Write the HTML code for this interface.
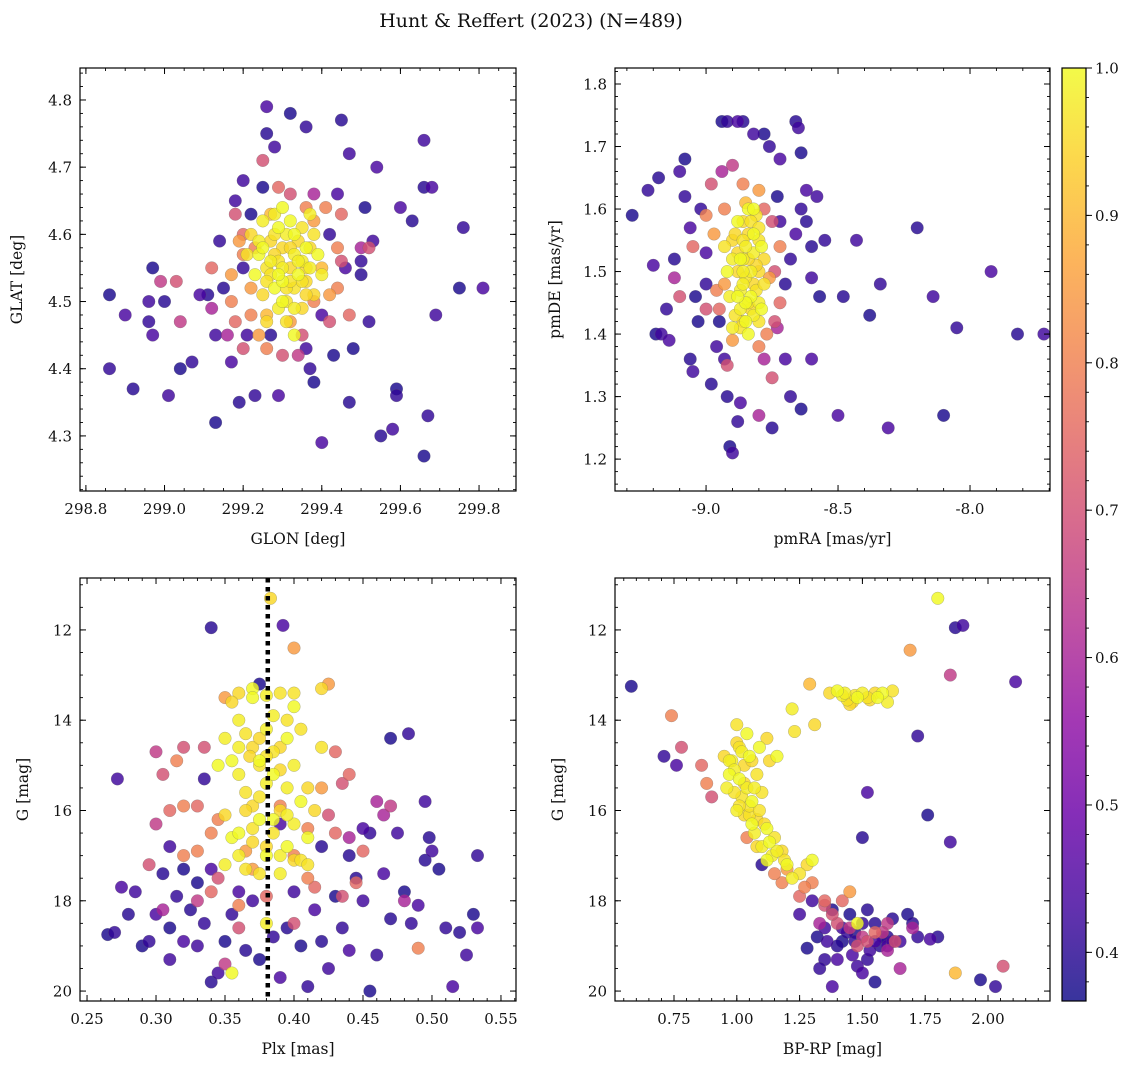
<!DOCTYPE html>
<html><head><meta charset="utf-8">
<style>
html,body{margin:0;padding:0;background:#fff;}
svg{display:block;font-family:"DejaVu Serif","Liberation Serif",serif;}
</style></head>
<body>
<svg id="fig" width="1136" height="1068" viewBox="0 0 1136 1068">
<text x="531" y="27" text-anchor="middle" font-size="19" fill="#111">Hunt &amp; Reffert (2023) (N=489)</text>
</svg>
<script>
// ---------- data (x, y, membership probability) ----------
const p1Purple=[[298.86,4.51],[298.86,4.40],[298.9,4.48],[298.92,4.37],[298.96,4.50],[298.97,4.55],[298.96,4.47],[298.97,4.45],[299.0,4.50],[299.01,4.36],[299.04,4.40],[299.07,4.41],[299.09,4.51],[299.11,4.51],[299.13,4.45],[299.13,4.32],[299.14,4.59],[299.17,4.41],[299.19,4.35],[299.2,4.68],[299.22,4.63],[299.23,4.36],[299.26,4.79],[299.26,4.75],[299.28,4.73],[299.32,4.78],[299.36,4.76],[299.4,4.29],[299.45,4.77],[299.47,4.72],[299.51,4.64],[299.52,4.47],[299.54,4.70],[299.55,4.30],[299.58,4.31],[299.59,4.37],[299.59,4.36],[299.6,4.64],[299.63,4.62],[299.66,4.74],[299.66,4.27],[299.67,4.33],[299.68,4.67],[299.66,4.67],[299.69,4.48],[299.75,4.52],[299.76,4.61],[299.81,4.52],[299.47,4.35],[299.36,4.43],[299.38,4.38],[299.37,4.40],[299.29,4.36],[299.15,4.52],[299.18,4.65],[299.25,4.67],[299.42,4.60],[299.46,4.55],[299.5,4.54],[299.53,4.59],[299.48,4.43],[299.5,4.56],[299.4,4.48],[299.27,4.45],[299.21,4.45],[299.43,4.42],[299.2,4.55],[299.44,4.66]];
const p1Mid=[[299.03,4.53,0.7],[298.99,4.53,0.65],[299.04,4.47,0.65],[299.12,4.49,0.6],[299.18,4.63,0.7],[299.2,4.6,0.75],[299.23,4.58,0.8],[299.25,4.71,0.7],[299.32,4.66,0.7],[299.38,4.66,0.6],[299.45,4.63,0.75],[299.5,4.58,0.6],[299.52,4.58,0.7],[299.16,4.45,0.6],[299.2,4.43,0.7],[299.26,4.43,0.8],[299.3,4.42,0.7],[299.35,4.45,0.7],[299.42,4.47,0.7],[299.47,4.48,0.75],[299.44,4.52,0.8],[299.17,4.5,0.8],[299.12,4.55,0.75],[299.22,4.52,0.85],[299.38,4.62,0.85],[299.4,4.55,0.9],[299.27,4.63,0.9],[299.17,4.54,0.85],[299.44,4.58,0.8],[299.32,4.47,0.85],[299.26,4.48,0.9],[299.19,4.59,0.85],[299.41,4.64,0.8],[299.22,4.48,0.8],[299.24,4.45,0.85],[299.38,4.5,0.8],[299.42,4.51,0.85],[299.36,4.64,0.8],[299.29,4.67,0.75],[299.2,4.57,0.8],[299.45,4.56,0.7],[299.18,4.47,0.75],[299.34,4.42,0.65]];
const p1Yellow=[[299.22,4.60],[299.24,4.57],[299.25,4.62],[299.26,4.55],[299.27,4.59],[299.28,4.52],[299.28,4.63],[299.29,4.56],[299.3,4.58],[299.3,4.53],[299.31,4.60],[299.31,4.50],[299.32,4.55],[299.32,4.62],[299.33,4.57],[299.33,4.52],[299.34,4.59],[299.34,4.54],[299.35,4.56],[299.35,4.61],[299.36,4.53],[299.36,4.58],[299.37,4.55],[299.38,4.60],[299.38,4.51],[299.39,4.57],[299.29,4.49],[299.27,4.54],[299.25,4.51],[299.23,4.54],[299.4,4.54],[299.31,4.47],[299.35,4.49],[299.3,4.64],[299.37,4.63],[299.21,4.57],[299.26,4.47],[299.33,4.45],[299.24,4.59],[299.26,4.53],[299.28,4.57],[299.29,4.61],[299.3,4.55],[299.31,4.52],[299.32,4.58],[299.33,4.60],[299.34,4.56],[299.35,4.53],[299.36,4.55],[299.3,4.50],[299.27,4.56],[299.32,4.53],[299.37,4.58],[299.29,4.54],[299.33,4.49],[299.28,4.60],[299.36,4.51],[299.25,4.58]];

const p2Purple=[[-9.28,1.59],[-9.22,1.63],[-9.2,1.51],[-9.18,1.65],[-9.17,1.40],[-9.19,1.40],[-9.15,1.44],[-9.14,1.39],[-9.12,1.52],[-9.1,1.66],[-9.08,1.68],[-9.08,1.62],[-9.06,1.57],[-9.06,1.36],[-9.05,1.34],[-9.04,1.46],[-9.02,1.60],[-9.0,1.53],[-8.98,1.32],[-8.96,1.38],[-8.94,1.74],[-8.92,1.74],[-8.88,1.74],[-8.86,1.74],[-8.82,1.72],[-8.78,1.72],[-8.76,1.70],[-8.72,1.68],[-8.66,1.74],[-8.65,1.73],[-8.64,1.69],[-8.64,1.6],[-8.62,1.63],[-8.6,1.54],[-8.6,1.49],[-8.57,1.46],[-8.55,1.55],[-8.5,1.27],[-8.48,1.46],[-8.43,1.55],[-8.38,1.43],[-8.34,1.48],[-8.31,1.25],[-8.2,1.57],[-8.14,1.46],[-8.1,1.27],[-8.05,1.41],[-7.92,1.50],[-7.82,1.40],[-7.72,1.40],[-8.64,1.28],[-8.68,1.30],[-8.7,1.36],[-8.75,1.25],[-8.9,1.21],[-8.91,1.22],[-8.88,1.26],[-8.87,1.29],[-8.92,1.3],[-8.93,1.36],[-8.95,1.42],[-8.68,1.52],[-8.66,1.56],[-8.7,1.48],[-8.72,1.58],[-9.03,1.42],[-9.0,1.48],[-8.6,1.36],[-8.62,1.58],[-8.58,1.62],[-8.73,1.62]];
const p2Mid=[[-9.12,1.49,0.6],[-9.1,1.46,0.7],[-9.0,1.44,0.7],[-8.98,1.64,0.7],[-8.94,1.66,0.6],[-8.9,1.67,0.65],[-8.86,1.64,0.8],[-8.8,1.63,0.85],[-8.75,1.58,0.7],[-8.72,1.54,0.8],[-8.74,1.42,0.7],[-8.73,1.41,0.6],[-8.78,1.36,0.6],[-8.8,1.27,0.6],[-8.92,1.35,0.7],[-8.96,1.47,0.8],[-9.05,1.54,0.75],[-8.97,1.56,0.85],[-8.76,1.49,0.85],[-8.75,1.33,0.7],[-8.72,1.45,0.75],[-9.0,1.59,0.8],[-8.85,1.61,0.9],[-8.9,1.39,0.85],[-8.8,1.38,0.8],[-8.93,1.6,0.8],[-8.78,1.6,0.75],[-8.95,1.44,0.75],[-8.77,1.4,0.8],[-8.93,1.48,0.85],[-8.74,1.5,0.7]];
const p2Yellow=[[-8.9,1.55],[-8.88,1.58],[-8.86,1.52],[-8.85,1.49],[-8.84,1.56],[-8.83,1.46],[-8.82,1.53],[-8.81,1.59],[-8.8,1.50],[-8.79,1.44],[-8.87,1.47],[-8.89,1.43],[-8.86,1.42],[-8.84,1.40],[-8.82,1.43],[-8.8,1.55],[-8.78,1.52],[-8.92,1.50],[-8.91,1.46],[-8.93,1.54],[-8.88,1.50],[-8.85,1.45],[-8.83,1.50],[-8.81,1.47],[-8.86,1.58],[-8.84,1.6],[-8.9,1.41],[-8.78,1.48],[-8.88,1.53],[-8.82,1.56],[-8.87,1.44],[-8.8,1.42],[-8.89,1.56],[-8.87,1.52],[-8.85,1.54],[-8.83,1.58],[-8.81,1.51],[-8.79,1.54],[-8.86,1.48],[-8.84,1.45],[-8.82,1.48],[-8.88,1.46],[-8.9,1.52],[-8.86,1.55],[-8.83,1.44],[-8.85,1.42],[-8.8,1.45],[-8.87,1.41],[-8.84,1.52],[-8.82,1.6],[-8.86,1.5],[-8.8,1.57]];

const p3Purple=[[0.265,18.75],[0.27,18.7],[0.275,17.7],[0.28,18.3],[0.285,17.8],[0.29,19.0],[0.295,18.9],[0.3,18.3],[0.305,17.4],[0.31,19.3],[0.31,18.6],[0.315,17.9],[0.32,18.9],[0.325,18.2],[0.33,19.0],[0.33,17.6],[0.335,18.5],[0.34,17.3],[0.34,19.8],[0.345,19.6],[0.35,18.9],[0.355,18.3],[0.36,17.8],[0.365,19.1],[0.37,18.0],[0.375,19.3],[0.385,18.8],[0.39,19.7],[0.395,18.6],[0.4,17.8],[0.405,19.0],[0.41,19.9],[0.415,18.2],[0.42,18.9],[0.425,19.5],[0.43,17.9],[0.435,18.6],[0.44,19.1],[0.445,17.5],[0.45,18.0],[0.455,20.0],[0.46,19.2],[0.465,17.4],[0.47,18.4],[0.475,16.5],[0.48,17.8],[0.485,18.5],[0.49,18.1],[0.495,17.1],[0.5,16.9],[0.505,17.3],[0.51,18.6],[0.515,19.9],[0.52,18.7],[0.525,19.2],[0.53,18.3],[0.533,17.0],[0.533,18.6],[0.498,16.6],[0.495,15.8],[0.47,14.4],[0.483,14.3],[0.392,11.9],[0.34,11.95],[0.272,15.3],[0.375,13.2],[0.455,16.5],[0.45,16.4],[0.44,17.0],[0.31,16.8],[0.32,17.3],[0.335,15.3],[0.39,16.3],[0.42,16.8]];
const p3Mid=[[0.295,17.2,0.7],[0.3,16.3,0.65],[0.305,18.2,0.6],[0.305,15.2,0.7],[0.3,14.7,0.65],[0.31,16.0,0.75],[0.315,14.9,0.8],[0.32,17.0,0.8],[0.32,14.6,0.7],[0.33,15.9,0.75],[0.335,14.6,0.7],[0.34,16.5,0.8],[0.345,17.5,0.7],[0.35,19.4,0.65],[0.36,18.6,0.7],[0.365,16.9,0.85],[0.37,17.3,0.85],[0.38,17.9,0.75],[0.39,15.9,0.8],[0.4,17.0,0.8],[0.41,16.4,0.8],[0.415,17.7,0.75],[0.42,15.5,0.85],[0.425,16.1,0.7],[0.43,14.7,0.75],[0.435,15.4,0.7],[0.44,16.6,0.6],[0.445,17.6,0.75],[0.45,16.9,0.75],[0.46,15.8,0.6],[0.465,16.1,0.6],[0.47,15.9,0.65],[0.48,18.0,0.6],[0.49,19.05,0.8],[0.4,12.4,0.85],[0.425,13.2,0.85],[0.35,13.5,0.85],[0.36,18.1,0.8],[0.33,18.0,0.65],[0.4,18.5,0.7],[0.33,16.9,0.8],[0.345,16.2,0.8],[0.43,16.5,0.75],[0.41,17.5,0.8],[0.435,17.9,0.7],[0.34,17.8,0.75],[0.32,15.9,0.8],[0.44,15.2,0.75]];
const p3Yellow=[[0.36,13.4],[0.37,13.3],[0.38,13.45],[0.39,13.4],[0.355,13.6],[0.4,13.7],[0.36,14.0],[0.365,14.3],[0.37,14.6],[0.375,14.9],[0.38,14.2],[0.385,14.7],[0.39,15.1],[0.395,14.4],[0.4,15.0],[0.405,14.2],[0.41,15.5],[0.355,14.9],[0.36,15.2],[0.365,15.6],[0.37,15.9],[0.375,16.2],[0.38,15.4],[0.385,16.5],[0.39,16.0],[0.395,16.8],[0.4,16.3],[0.405,17.1],[0.35,16.1],[0.355,16.6],[0.36,17.0],[0.365,17.3],[0.37,16.7],[0.38,17.0],[0.39,17.4],[0.41,17.2],[0.415,16.0],[0.345,15.0],[0.35,14.4],[0.42,14.6],[0.383,11.3],[0.355,19.6],[0.38,18.5],[0.375,15.0],[0.368,14.8],[0.37,13.5],[0.385,13.9],[0.395,14.0],[0.375,14.4],[0.385,15.2],[0.395,15.5],[0.375,15.7],[0.365,16.0],[0.385,16.2],[0.395,16.1],[0.37,16.4],[0.38,16.8],[0.36,16.5],[0.39,17.0],[0.375,17.4],[0.4,17.1],[0.405,15.8],[0.36,14.6],[0.38,14.8],[0.39,14.6],[0.41,16.6],[0.35,17.2],[0.4,13.4],[0.42,13.3]];

const p4Purple=[[0.58,13.25],[0.71,14.8],[0.76,15.0],[1.1,17.2],[1.3,18.0],[1.32,18.8],[1.35,19.3],[1.38,19.9],[1.4,19.0],[1.42,18.6],[1.45,18.3],[1.47,18.9],[1.5,19.6],[1.52,18.2],[1.53,19.1],[1.55,19.8],[1.58,18.8],[1.6,19.0],[1.62,18.4],[1.65,18.9],[1.68,18.3],[1.72,18.8],[1.77,18.85],[1.8,18.8],[1.85,16.7],[1.97,19.75],[2.03,19.9],[2.11,13.15],[1.87,11.95],[1.9,11.9],[1.76,16.1],[1.72,14.35],[1.52,15.6],[1.5,16.6],[1.35,18.6],[1.38,18.2],[1.44,18.7],[1.46,19.2],[1.57,19.0],[1.25,18.3],[1.28,19.05],[1.33,19.5],[1.4,19.3],[1.55,18.5],[1.48,19.45],[1.42,18.9],[1.5,18.5],[1.55,18.9],[1.6,18.8],[1.36,18.9],[1.47,18.7],[1.52,19.3],[1.62,18.9],[1.7,18.5]];
const p4Mid=[[0.74,13.9,0.8],[0.78,14.6,0.7],[0.86,15.0,0.75],[0.9,15.7,0.7],[1.04,16.6,0.8],[1.18,17.6,0.8],[1.25,17.9,0.75],[1.35,18.1,0.7],[1.4,18.5,0.7],[1.48,19.0,0.7],[1.5,18.8,0.65],[1.55,18.7,0.75],[1.6,19.1,0.6],[1.65,19.5,0.6],[1.7,18.6,0.6],[1.6,18.5,0.65],[1.42,18.0,0.75],[1.3,17.6,0.8],[1.85,13.0,0.65],[2.06,19.45,0.7],[1.45,17.8,0.85],[1.33,18.5,0.6],[0.88,15.4,0.8],[1.29,13.2,0.9],[1.69,12.45,0.85],[1.87,19.6,0.9],[1.2,17.3,0.85],[1.27,17.7,0.8],[1.35,18.0,0.75],[1.38,18.3,0.7],[1.45,18.6,0.65],[1.52,18.9,0.7],[1.58,18.7,0.65],[1.63,18.9,0.7],[1.15,17.4,0.8]];
const p4Yellow=[[0.95,14.8],[0.97,15.2],[0.98,14.9],[1.0,14.1],[1.0,14.5],[1.01,15.3],[1.02,14.7],[1.02,15.7],[1.03,15.0],[1.04,14.3],[1.04,15.5],[1.05,16.1],[1.06,14.9],[1.06,15.8],[1.07,16.5],[1.08,15.2],[1.08,16.2],[1.09,14.6],[1.1,16.8],[1.1,15.6],[1.12,14.4],[1.12,16.4],[1.14,17.0],[1.15,16.6],[1.18,16.9],[1.2,17.2],[1.22,17.5],[1.25,17.4],[1.28,17.2],[1.3,17.1],[1.0,16.0],[1.05,15.9],[1.13,14.9],[1.16,14.8],[0.96,15.5],[0.99,15.6],[1.37,13.4],[1.4,13.35],[1.42,13.45],[1.44,13.55],[1.46,13.6],[1.48,13.5],[1.5,13.4],[1.52,13.5],[1.55,13.4],[1.58,13.4],[1.6,13.6],[1.62,13.35],[1.45,13.65],[1.8,11.3],[1.22,13.75],[1.23,14.25],[1.31,14.1],[1.48,18.5],[0.97,14.9],[1.01,14.6],[1.03,15.4],[1.05,14.8],[1.07,15.5],[1.09,16.0],[1.11,16.3],[1.13,16.7],[1.16,16.9],[1.19,17.1],[1.03,16.1],[1.06,16.3],[0.99,15.1],[1.01,15.9],[1.08,16.8],[1.12,17.1],[1.43,13.4],[1.47,13.45],[1.53,13.55],[1.56,13.5]];

const plxLine=[0.381];
const cbTicks=[0.4,0.5,0.6,0.7,0.8,0.9,1.0];

// ---------- helpers ----------
const NS="http://www.w3.org/2000/svg";
const svg=document.getElementById('fig');
function mk(tag,attrs,parent){const e=document.createElementNS(NS,tag);for(const k in attrs)e.setAttribute(k,attrs[k]);(parent||svg).appendChild(e);return e;}
const PMIN=0.367,PMAX=1.0;
const stops=["#0d0887","#41049d","#6a00a8","#8f0da4","#b12a90","#cc4778","#e16462","#f2844b","#fca636","#fcce25","#f0f921"];
function hex(h){return [1,3,5].map(i=>parseInt(h.substr(i,2),16));}
function cmap(p){let t=(p-PMIN)/(PMAX-PMIN);t=Math.max(0,Math.min(1,t));const f=t*10,i=Math.min(9,Math.floor(f)),r=f-i;const a=hex(stops[i]),b=hex(stops[i+1]);return "rgb("+a.map((v,k)=>Math.round(v+(b[k]-v)*r)).join(",")+")";}
function combine(purple,mid,yellow){
  const pts=[];
  purple.forEach((d,i)=>pts.push([d[0],d[1],0.38+((i*7)%5)*0.015]));
  mid.forEach(d=>pts.push(d));
  yellow.forEach((d,i)=>pts.push([d[0],d[1],0.95+((i*3)%4)*0.0165]));
  pts.sort((a,b)=>a[2]-b[2]);return pts;
}
function fmt(v,dec){return v.toFixed(dec);}

function panel(cfg){
  const g=mk('g',{});
  
  
  const {x0,x1,y0,y1}=cfg.box;
  const sx=v=>x0+(v-cfg.xlim[0])/(cfg.xlim[1]-cfg.xlim[0])*(x1-x0);
  const sy=v=>cfg.yinv? y0+(v-cfg.ylim[0])/(cfg.ylim[1]-cfg.ylim[0])*(y1-y0) : y1-(v-cfg.ylim[0])/(cfg.ylim[1]-cfg.ylim[0])*(y1-y0);
  const clipId='clip-'+cfg.name;
  const cp=mk('clipPath',{id:clipId},g);mk('rect',{x:x0,y:y0,width:x1-x0,height:y1-y0},cp);
  const pg=mk('g',{'clip-path':'url(#'+clipId+')'},g);
  cfg.pts.forEach(d=>{
    const c=mk('circle',{cx:sx(d[0]).toFixed(1),cy:sy(d[1]).toFixed(1),r:6.3,fill:cmap(d[2]),'fill-opacity':0.82,stroke:'#666','stroke-width':0.4,'stroke-opacity':0.6},pg);
    
    
  });
  if(cfg.vline){cfg.vline.forEach(v=>{const l=mk('line',{x1:sx(v),x2:sx(v),y1:y0,y2:y1,stroke:'#000','stroke-width':4.5,'stroke-dasharray':'4.5,4.5'},pg);
    
    });}
  const fr=mk('rect',{x:x0,y:y0,width:x1-x0,height:y1-y0,fill:'none',stroke:'#000','stroke-width':1.2},g);
  
  
  const lo=Math.min(...cfg.xlim),hi=Math.max(...cfg.xlim);
  for(let v=Math.ceil(lo/cfg.xminor-1e-6)*cfg.xminor;v<=hi+1e-9;v+=cfg.xminor){const X=sx(v);mk('line',{x1:X,x2:X,y1:y1,y2:y1-3,stroke:'#000','stroke-width':0.9},g);mk('line',{x1:X,x2:X,y1:y0,y2:y0+3,stroke:'#000','stroke-width':0.9},g);}
  cfg.xmajor.forEach(v=>{const X=sx(v);mk('line',{x1:X,x2:X,y1:y1,y2:y1-6,stroke:'#000','stroke-width':1},g);mk('line',{x1:X,x2:X,y1:y0,y2:y0+6,stroke:'#000','stroke-width':1},g);
    const t=mk('text',{x:X,y:y1+23,'text-anchor':'middle','font-size':15,fill:'#111'},g);t.textContent=fmt(v,cfg.xdec);
    
    });
  const ylo=Math.min(...cfg.ylim),yhi=Math.max(...cfg.ylim);
  for(let v=Math.ceil(ylo/cfg.yminor-1e-6)*cfg.yminor;v<=yhi+1e-9;v+=cfg.yminor){const Y=sy(v);mk('line',{x1:x0,x2:x0+3,y1:Y,y2:Y,stroke:'#000','stroke-width':0.9},g);mk('line',{x1:x1,x2:x1-3,y1:Y,y2:Y,stroke:'#000','stroke-width':0.9},g);}
  cfg.ymajor.forEach(v=>{const Y=sy(v);mk('line',{x1:x0,x2:x0+6,y1:Y,y2:Y,stroke:'#000','stroke-width':1},g);mk('line',{x1:x1,x2:x1-6,y1:Y,y2:Y,stroke:'#000','stroke-width':1},g);
    const t=mk('text',{x:x0-8,y:Y+5.5,'text-anchor':'end','font-size':15,fill:'#111'},g);t.textContent=fmt(v,cfg.ydec);
    
    });
  const xl=mk('text',{x:(x0+x1)/2,y:y1+53,'text-anchor':'middle','font-size':15.5,fill:'#111'},g);xl.textContent=cfg.xlabel;
  
  
  const yl=mk('text',{x:0,y:0,'text-anchor':'middle','font-size':15.5,fill:'#111',transform:'translate('+cfg.ylabX+','+((y0+y1)/2)+') rotate(-90)'},g);yl.textContent=cfg.ylabel;
  
  
}

panel({name:'glon-glat-panel',box:{x0:80,x1:516,y0:68,y1:491},xlim:[298.785,299.894],ylim:[4.218,4.8476],
  xmajor:[298.8,299.0,299.2,299.4,299.6,299.8],xminor:0.05,xdec:1,ymajor:[4.3,4.4,4.5,4.6,4.7,4.8],yminor:0.02,ydec:1,
  xlabel:'GLON [deg]',ylabel:'GLAT [deg]',ylabX:22,pts:combine(p1Purple,p1Mid,p1Yellow)});
panel({name:'proper-motion-panel',box:{x0:615,x1:1050,y0:68,y1:491},xlim:[-9.345,-7.697],ylim:[1.149,1.8256],
  xmajor:[-9.0,-8.5,-8.0],xminor:0.1,xdec:1,ymajor:[1.2,1.3,1.4,1.5,1.6,1.7,1.8],yminor:0.02,ydec:1,
  xlabel:'pmRA [mas/yr]',ylabel:'pmDE [mas/yr]',ylabX:560,pts:combine(p2Purple,p2Mid,p2Yellow)});
panel({name:'parallax-magnitude-panel',box:{x0:80,x1:516,y0:578,y1:1001},xlim:[0.2449,0.5609],ylim:[10.85,20.22],yinv:true,
  xmajor:[0.25,0.30,0.35,0.40,0.45,0.50,0.55],xminor:0.01,xdec:2,ymajor:[12,14,16,18,20],yminor:0.5,ydec:0,
  xlabel:'Plx [mas]',ylabel:'G [mag]',ylabX:28,vline:plxLine,pts:combine(p3Purple,p3Mid,p3Yellow)});
panel({name:'color-magnitude-panel',box:{x0:615,x1:1050,y0:578,y1:1001},xlim:[0.5151,2.2468],ylim:[10.85,20.22],yinv:true,
  xmajor:[0.75,1.0,1.25,1.5,1.75,2.0],xminor:0.05,xdec:2,ymajor:[12,14,16,18,20],yminor:0.5,ydec:0,
  xlabel:'BP-RP [mag]',ylabel:'G [mag]',ylabX:563,pts:combine(p4Purple,p4Mid,p4Yellow)});

// ---------- colorbar ----------
(function(){
  const g=mk('g',{});
  
  
  const x0=1062,x1=1086,y0=68,y1=1001;
  const sy=v=>y1-(v-PMIN)/(PMAX-PMIN)*(y1-y0);
  const grad=mk('linearGradient',{id:'cbg',x1:0,y1:1,x2:0,y2:0},g);
  for(let i=0;i<=20;i++){mk('stop',{offset:(i/20),'stop-color':cmap(PMIN+(PMAX-PMIN)*i/20),'stop-opacity':0.82},grad);}
  mk('rect',{x:x0,y:y0,width:x1-x0,height:y1-y0,fill:'url(#cbg)',stroke:'#000','stroke-width':1.2},g);
  for(let v=0.38;v<=1.0001;v+=0.02){const Y=sy(v);mk('line',{x1:x1,x2:x1+3,y1:Y,y2:Y,stroke:'#000','stroke-width':0.9},g);}
  cbTicks.forEach(v=>{const Y=sy(v);mk('line',{x1:x1,x2:x1+6,y1:Y,y2:Y,stroke:'#000','stroke-width':1},g);
    const t=mk('text',{x:x1+9,y:Y+5.5,'font-size':15,fill:'#111'},g);t.textContent=v.toFixed(1);
    
    });
})();
</script>
</body></html>
